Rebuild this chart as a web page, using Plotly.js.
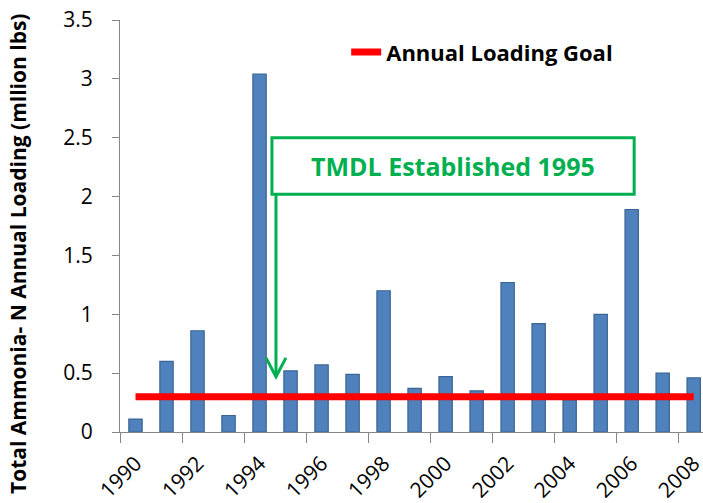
<!DOCTYPE html>
<html>
<head>
<meta charset="utf-8">
<script src="https://cdn.plot.ly/plotly-3.0.1.min.js"></script>
<style>html,body{margin:0;padding:0;background:#fff;}#chart{width:703px;height:503px;}</style>
</head>
<body>
<div id="chart"></div>
<script>
// Data
const years = ["1990","1991","1992","1993","1994","1995","1996","1997","1998","1999",
               "2000","2001","2002","2003","2004","2005","2006","2007","2008"];
const loading = [0.11, 0.60, 0.86, 0.14, 3.04, 0.52, 0.57, 0.49, 1.20, 0.37,
                 0.47, 0.35, 1.27, 0.92, 0.27, 1.00, 1.89, 0.50, 0.46];
const goalValue = 0.3;
const goalName = "Annual Loading Goal";
const noteText = "TMDL Established 1995";
const yTitle = "Total Ammonia- N Annual Loading (mllion lbs)";

const green = "#00B050";
const axisGray = "#868686";
const font = "'Open Sans', 'Liberation Sans', sans-serif";

const bars = {
  type: "bar",
  x: years,
  y: loading,
  width: 0.43,
  marker: {color: "#4F81BD", line: {color: "#3A6595", width: 1.2}},
  showlegend: false,
  hoverinfo: "x+y"
};

const goal = {
  type: "scatter",
  mode: "lines",
  x: [years[0], years[years.length - 1]],
  y: [goalValue, goalValue],
  name: goalName,
  line: {color: "#FF0000", width: 7},
  showlegend: true
};

const layout = {
  width: 703,
  height: 503,
  margin: {l: 120, r: 0, t: 20, b: 71},
  paper_bgcolor: "#ffffff",
  plot_bgcolor: "#ffffff",
  font: {family: font, color: "#000000", size: 20},
  showlegend: true,
  legend: {
    x: 0.388, y: 0.922, xanchor: "left", yanchor: "middle",
    bgcolor: "rgba(0,0,0,0)",
    font: {family: font, size: 22, weight: 700, color: "#000000"}
  },
  xaxis: {
    type: "category",
    range: [-0.5, 18.3],
    dtick: 2,
    tickson: "boundaries",
    ticks: "outside",
    ticklen: 10,
    tickcolor: axisGray,
    tickwidth: 1,
    tickangle: -45,
    ticklabelstandoff: 10,
    ticklabelshift: 0,
    showline: true,
    linecolor: axisGray,
    linewidth: 1,
    showgrid: false,
    tickfont: {family: font, size: 21, color: "#000000"},
    fixedrange: true
  },
  yaxis: {
    range: [0, 3.5],
    dtick: 0.5,
    ticks: "outside",
    ticklen: 7,
    tickcolor: axisGray,
    showline: true,
    linecolor: axisGray,
    linewidth: 1,
    showgrid: false,
    zeroline: false,
    tickfont: {family: font, size: 21, color: "#000000"},
    ticklabelstandoff: 15,
    fixedrange: true
  },
  shapes: [
    {type: "rect", xref: "x", yref: "y", x0: 4.40, x1: 16.08, y0: 2.02, y1: 2.50,
     line: {color: green, width: 3}, fillcolor: "rgba(0,0,0,0)"},
    {type: "line", xref: "x", yref: "y", x0: 4.53, x1: 4.53, y0: 2.02, y1: 0.47,
     line: {color: green, width: 3}},
    {type: "path", xref: "x", yref: "y", path: "M 4.21,0.63 L 4.53,0.47 L 4.85,0.63",
     line: {color: green, width: 3}}
  ],
  annotations: [
    {xref: "x", yref: "y", x: 10.24, y: 2.26, text: noteText, showarrow: false,
     font: {family: font, size: 25, weight: 700, color: green}},
    {xref: "paper", yref: "paper", x: -0.175, y: 0.432, xanchor: "center", yanchor: "middle",
     text: yTitle, textangle: -90, showarrow: false,
     font: {family: font, size: 21, weight: 700, color: "#000000"}}
  ]
};

Plotly.newPlot("chart", [bars, goal], layout, {displayModeBar: false, staticPlot: true});
</script>
</body>
</html>
